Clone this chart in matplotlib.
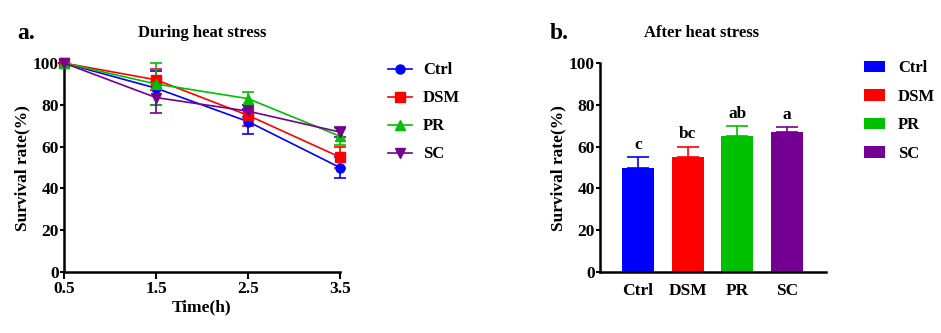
import matplotlib
matplotlib.use("Agg")
import matplotlib.pyplot as plt
from matplotlib.lines import Line2D
import numpy as np

plt.rcParams['font.family'] = ['Liberation Serif', 'DejaVu Serif']
plt.rcParams['font.weight'] = 'bold'

# data
groups = ['Ctrl', 'DSM', 'PR', 'SC']
colors = ['#0000FF', '#FF0000', '#00C000', '#730092']
markers = ['o', 's', '^', 'v']

times = [0.5, 1.5, 2.5, 3.5]
during_mean = {
    'Ctrl': [100, 88, 72, 50],
    'DSM': [100, 92, 75, 55],
    'PR': [100, 90, 83, 65],
    'SC': [100, 83.5, 77, 67],
}
during_err = {
    'Ctrl': [0, 8, 6, 5],
    'DSM': [0, 5, 5, 5],
    'PR': [0, 10, 3, 4],
    'SC': [0, 7.5, 3, 2.5],
}

after_mean = [50, 55, 65, 67]
after_err = [5, 5, 5, 2.5]
sig_letters = ['c', 'bc', 'ab', 'a']

fig = plt.figure(figsize=(9.41, 3.33), dpi=100)

def style_axes(ax):
    for s in ['top', 'right']:
        ax.spines[s].set_visible(False)
    for s in ['left', 'bottom']:
        ax.spines[s].set_linewidth(1.8)
    ax.set_ylim(0, 100)
    ax.set_yticks(np.arange(0, 101, 20))
    ax.tick_params(axis='y', width=1.5, length=3, labelsize=12.5, pad=0.8)
    ax.set_ylabel('Survival rate(%)', fontsize=12.5, fontweight='bold', labelpad=2)
    for lab in ax.get_yticklabels() + ax.get_xticklabels():
        lab.set_fontweight('bold')

# panel a
ax1 = fig.add_axes([0.068, 0.183, 0.2933, 0.6276])
for g, c, m in zip(groups, colors, markers):
    ax1.errorbar(times, during_mean[g], yerr=during_err[g], color=c, marker=m,
                 markersize=6.5, linewidth=1.2, elinewidth=1.2, capsize=4,
                 capthick=1.2, clip_on=False, zorder=3)
ax1.set_xlim(0.5, 3.5)
ax1.set_xticks(times)
ax1.set_xticklabels(['0.5', '1.5', '2.5', '3.5'])
ax1.tick_params(axis='x', width=1.5, length=5, labelsize=12.5, pad=1.5)
ax1.set_xlabel('Time(h)', fontsize=12.5, fontweight='bold', labelpad=2)
style_axes(ax1)
handles1 = [Line2D([], [], color=c, marker=m, markersize=6.5, linewidth=1.2)
            for c, m in zip(colors, markers)]
ax1.legend(handles1, groups, loc='upper left', bbox_to_anchor=(1.12, 1.075), frameon=False,
           prop={'size': 12, 'weight': 'bold'}, handlelength=1.45,
           labelspacing=0.72, handletextpad=0.65)
fig.text(0.215, 0.90, 'During heat stress', ha='center', va='center', fontsize=12, fontweight='bold')
fig.text(0.018, 0.90, 'a.', ha='left', va='center', fontsize=17, fontweight='bold')

# panel b
ax2 = fig.add_axes([0.6376, 0.183, 0.2402, 0.6276])
xpos = np.arange(len(groups))
bars = ax2.bar(xpos, after_mean, width=0.64, color=colors, zorder=2)
for x, m, e, c, s in zip(xpos, after_mean, after_err, colors, sig_letters):
    ax2.errorbar(x, m, yerr=[[0], [e]], color=c, capsize=8, capthick=1.2,
                 elinewidth=1.2, linestyle='none', zorder=1)
    ax2.text(x, m + e + 2, s, ha='center', va='bottom', fontsize=12.5, fontweight='bold')
ax2.set_xlim(-0.76, 3.78)
ax2.set_xticks(xpos)
ax2.set_xticklabels(groups)
ax2.tick_params(axis='x', direction='in', width=1.2, length=2.5, labelsize=12.5, pad=8)
style_axes(ax2)
ax2.legend(handles=list(bars), labels=groups, loc='upper left', bbox_to_anchor=(1.1, 1.085),
           frameon=False, prop={'size': 12, 'weight': 'bold'}, handlelength=1.3,
           handleheight=0.7, labelspacing=0.75, handletextpad=0.75)
fig.text(0.745, 0.90, 'After heat stress', ha='center', va='center', fontsize=12, fontweight='bold')
fig.text(0.584, 0.90, 'b.', ha='left', va='center', fontsize=17, fontweight='bold')

fig.savefig('out.png', dpi=100)
